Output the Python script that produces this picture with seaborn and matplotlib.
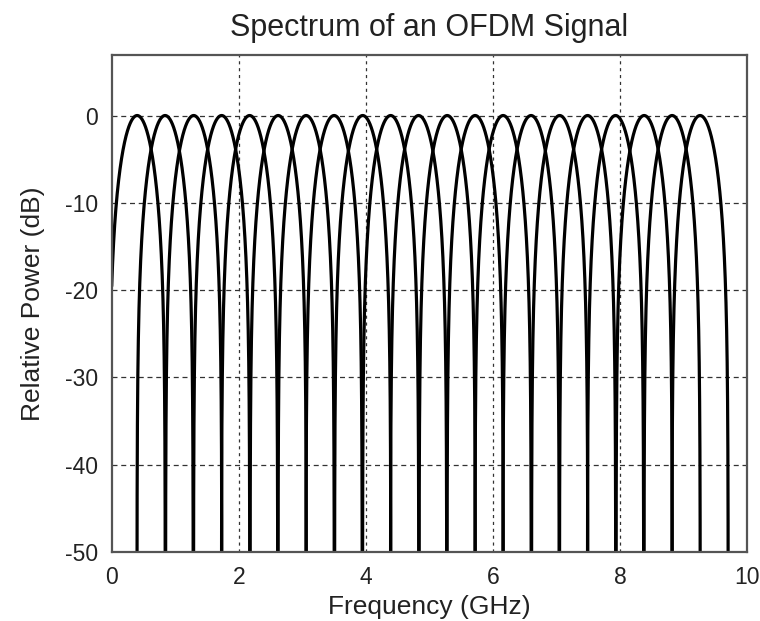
import numpy as np
import pandas as pd
import matplotlib
matplotlib.use("Agg")
import matplotlib.pyplot as plt
import seaborn as sns

# Subcarrier centre frequencies (GHz), read from the peaks
carrier_freqs = [0.40, 0.84, 1.29, 1.73, 2.17, 2.62, 3.06, 3.50, 3.95, 4.39,
                 4.83, 5.28, 5.72, 6.16, 6.60, 7.05, 7.49, 7.93, 8.38, 8.82, 9.26]
null_offset = 0.443          # GHz, distance from peak to first null
peak_db = 0.0
x_ticks = [0, 2, 4, 6, 8, 10]
y_ticks = [0, -10, -20, -30, -40, -50]

# Main-lobe sinc^2 shape for each subcarrier
u = np.linspace(-1, 1, 3001)
shape = np.sinc(u) ** 2
with np.errstate(divide="ignore"):
    shape_db = 10 * np.log10(shape)
shape_db[~np.isfinite(shape_db)] = -90

rows = []
for k, fc in enumerate(carrier_freqs):
    rows.append(pd.DataFrame({"freq": fc + u * null_offset,
                              "power": peak_db + shape_db,
                              "carrier": k}))
df = pd.concat(rows, ignore_index=True)

sns.set_theme(style="white")
plt.rcParams["font.family"] = ["Liberation Sans", "DejaVu Sans"]

fig, ax = plt.subplots(figsize=(7.6, 6.21), dpi=100)
fig.subplots_adjust(left=0.147, right=0.983, top=0.911, bottom=0.111)

sns.lineplot(data=df, x="freq", y="power", units="carrier", estimator=None,
             color="black", linewidth=2.3, sort=False, ax=ax, legend=False)

ax.set_xlim(0, 10)
ax.set_ylim(-50, 6.9)
ax.set_xticks(x_ticks)
ax.set_xticklabels([str(t) for t in x_ticks])
ax.set_yticks(y_ticks)
ax.set_yticklabels([str(t) for t in y_ticks])

for t in [2, 4, 6, 8]:
    ax.axvline(t, color="#333333", linewidth=0.9, linestyle=(0, (2.5, 3)), zorder=0)
for t in [0, -10, -20, -30, -40]:
    ax.axhline(t, color="#333333", linewidth=0.9, linestyle=(0, (4, 3)), zorder=0)

for s in ax.spines.values():
    s.set_color("#555555")
    s.set_linewidth(1.6)
ax.tick_params(direction="in", length=5, width=1, color="#555555",
               labelsize=16.5, labelcolor="#222222", pad=10)

ax.set_title("Spectrum of an OFDM Signal", fontsize=22, color="#222222", pad=14)
ax.set_xlabel("Frequency (GHz)", fontsize=19, color="#222222", labelpad=4)
ax.set_ylabel("Relative Power (dB)", fontsize=19, color="#222222", labelpad=14)

fig.savefig("out.png", dpi=100)
